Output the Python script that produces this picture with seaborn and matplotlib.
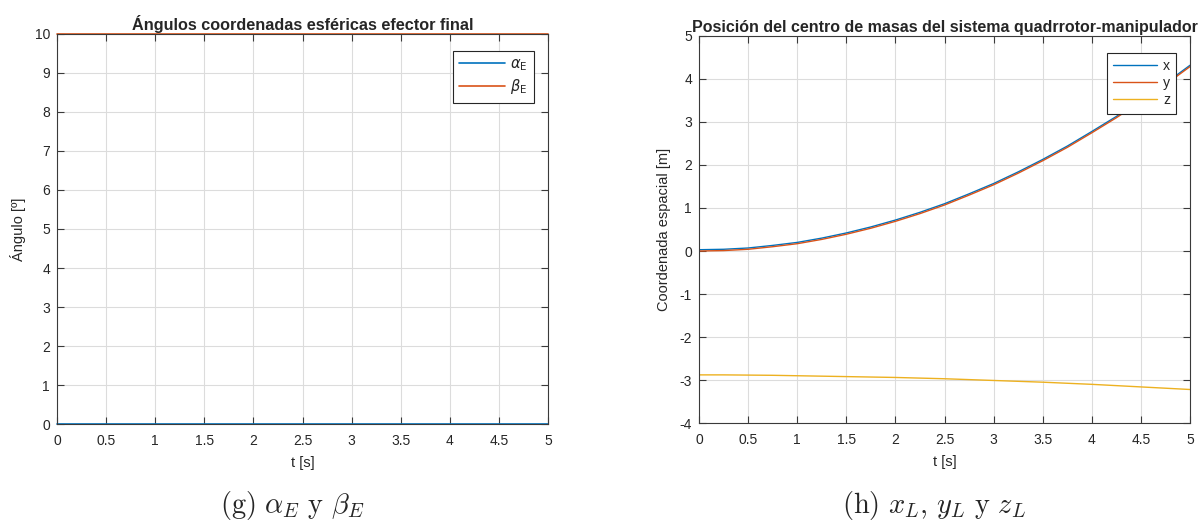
import numpy as np
import pandas as pd
import matplotlib
matplotlib.use("Agg")
import matplotlib.pyplot as plt
import seaborn as sns

# ---- data -------------------------------------------------------------
t_ang = [0.0, 0.5, 1.0, 1.5, 2.0, 2.5, 3.0, 3.5, 4.0, 4.5, 5.0]
alpha_E = [0, 0, 0, 0, 0, 0, 0, 0, 0, 0, 0]
beta_E = [10, 10, 10, 10, 10, 10, 10, 10, 10, 10, 10]

t_pos = [0.0, 0.25, 0.5, 0.75, 1.0, 1.25, 1.5, 1.75, 2.0, 2.25, 2.5,
         2.75, 3.0, 3.25, 3.5, 3.75, 4.0, 4.25, 4.5, 4.75, 5.0]
x_L = [0.03, 0.04, 0.07, 0.13, 0.20, 0.30, 0.42, 0.56, 0.72, 0.90, 1.10,
       1.33, 1.57, 1.84, 2.13, 2.44, 2.78, 3.13, 3.51, 3.90, 4.32]
y_L = [0.00, 0.01, 0.04, 0.10, 0.17, 0.27, 0.39, 0.53, 0.69, 0.87, 1.07,
       1.30, 1.54, 1.81, 2.10, 2.41, 2.75, 3.10, 3.48, 3.87, 4.29]
z_L = [-2.88, -2.88, -2.885, -2.89, -2.90, -2.91, -2.92, -2.93, -2.94, -2.955, -2.97,
       -2.99, -3.01, -3.03, -3.05, -3.075, -3.10, -3.13, -3.16, -3.19, -3.22]

x_ticks = [0, 0.5, 1, 1.5, 2, 2.5, 3, 3.5, 4, 4.5, 5]
x_ticklabels = ["0", "0.5", "1", "1.5", "2", "2.5", "3", "3.5", "4", "4.5", "5"]

# MATLAB-like default line colours
c_blue, c_orange, c_yellow = "#0072BD", "#D95319", "#EDB120"

sns.set_style("ticks")
plt.rcParams["font.family"] = ["Liberation Sans", "DejaVu Sans"]
plt.rcParams["axes.unicode_minus"] = False
plt.rcParams["axes.edgecolor"] = "#3a3a3a"
plt.rcParams["xtick.color"] = "#3a3a3a"
plt.rcParams["ytick.color"] = "#3a3a3a"
plt.rcParams["xtick.labelcolor"] = "#262626"
plt.rcParams["ytick.labelcolor"] = "#262626"

fig = plt.figure(figsize=(12.03, 5.21), dpi=100)
ax1 = fig.add_axes([0.0474, 0.186, 0.4082, 0.749])
ax2 = fig.add_axes([0.5811, 0.188, 0.4082, 0.743])


def matlab_axes(ax):
    ax.grid(True, color="#dcdcdc", linewidth=0.8)
    ax.set_axisbelow(True)
    for s in ax.spines.values():
        s.set_visible(True)
        s.set_linewidth(0.8)
    ax.tick_params(direction="in", top=True, right=True, length=5,
                   width=0.8, labelsize=10)
    ax.tick_params(axis="x", pad=7)
    ax.tick_params(axis="y", pad=5)
    ax.set_xticks(x_ticks)
    ax.set_xticklabels(x_ticklabels)
    ax.set_xlim(0, 5)


def matlab_legend(ax, labels, size, spacing):
    leg = ax.legend(ax.get_lines()[:len(labels)], labels, loc="upper right",
                    bbox_to_anchor=(0.972, 0.957),
                    fontsize=size, frameon=True, fancybox=False, framealpha=1,
                    edgecolor="#262626", handlelength=3.1, handletextpad=0.4,
                    borderpad=0.45, labelspacing=spacing, borderaxespad=0.0)
    leg.get_frame().set_linewidth(0.8)
    return leg


# ---- left: spherical angles of the end effector -----------------------
df_ang = pd.DataFrame({"t": t_ang * 2,
                       "val": alpha_E + beta_E,
                       "serie": ["alpha"] * len(t_ang) + ["beta"] * len(t_ang)})
sns.lineplot(data=df_ang, x="t", y="val", hue="serie",
             palette=[c_blue, c_orange], linewidth=1.2, ax=ax1, legend=False)
for ln in ax1.get_lines():
    ln.set_clip_on(False)
matlab_axes(ax1)
ax1.set_ylim(0, 10)
ax1.set_yticks(range(0, 11))
ax1.set_xlabel("t [s]", fontsize=10.5, color="#262626", labelpad=6)
ax1.set_ylabel("Ángulo [º]", fontsize=10.5, color="#262626", labelpad=6)
ax1.set_title("Ángulos coordenadas esféricas efector final",
              fontsize=11.7, fontweight="bold", pad=3)
matlab_legend(ax1, [r"$\alpha_\mathsf{E}$", r"$\beta_\mathsf{E}$"], 10.5, 0.3)

# ---- right: centre of mass of the quadrotor-manipulator ---------------
df_pos = pd.DataFrame({"t": t_pos * 3,
                       "val": x_L + y_L + z_L,
                       "serie": ["x"] * len(t_pos) + ["y"] * len(t_pos) + ["z"] * len(t_pos)})
sns.lineplot(data=df_pos, x="t", y="val", hue="serie",
             palette=[c_blue, c_orange, c_yellow], linewidth=1.0, ax=ax2, legend=False)
matlab_axes(ax2)
ax2.set_ylim(-4, 5)
ax2.set_yticks(range(-4, 6))
ax2.set_xlabel("t [s]", fontsize=10.5, color="#262626", labelpad=6)
ax2.set_ylabel("Coordenada espacial [m]", fontsize=10.5, color="#262626", labelpad=6)
ax2.set_title("Posición del centro de masas del sistema quadrrotor-manipulador",
              fontsize=11.5, fontweight="bold", pad=3)
matlab_legend(ax2, ["x", "y", "z"], 10.2, 0.22)

# ---- sub-figure captions ----------------------------------------------
fig.text(0.243, 0.03, r"$\mathrm{(g)}\ \alpha_E\ \mathrm{y}\ \beta_E$",
         math_fontfamily="cm", fontsize=20.5, ha="center", va="center")
fig.text(0.776, 0.03, r"$\mathrm{(h)}\ x_L,\, y_L\ \mathrm{y}\ z_L$",
         math_fontfamily="cm", fontsize=20.5, ha="center", va="center")

fig.savefig("out.png", dpi=100, facecolor="white")
